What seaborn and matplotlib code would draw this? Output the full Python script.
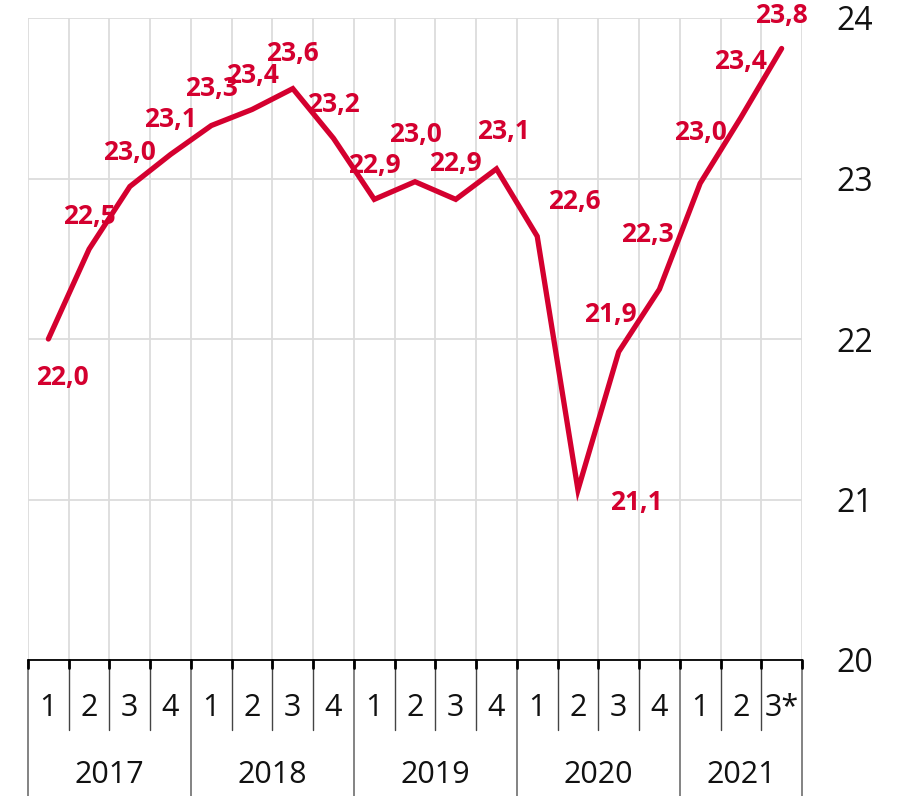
import matplotlib
matplotlib.use("Agg")
import matplotlib.pyplot as plt
import matplotlib.transforms as mtransforms
import pandas as pd
import seaborn as sns

# Quarterly series, 2017 Q1 .. 2021 Q3
years = ["2017", "2018", "2019", "2020", "2021"]
quarters = ["1", "2", "3", "4"] * 4 + ["1", "2", "3*"]
values = [22.00, 22.56, 22.95, 23.15, 23.33, 23.43, 23.56, 23.25, 22.87, 22.98,
          22.87, 23.06, 22.64, 21.06, 21.92, 22.31, 22.97, 23.38, 23.81]
value_labels = ["22,0", "22,5", "23,0", "23,1", "23,3", "23,4", "23,6", "23,2", "22,9", "23,0",
                "22,9", "23,1", "22,6", "21,1", "21,9", "22,3", "23,0", "23,4", "23,8"]
y_ticks = [20, 21, 22, 23, 24]

# label offsets in pixels (dx, dy)
label_offsets = [(14, -39), (0, 33), (0, 34), (0, 35), (0, 37), (0, 34), (0, 35), (0, 34),
                 (0, 34), (0, 47), (0, 36), (7, 37), (37, 35), (58, -13), (-8, 37),
                 (-12, 55), (0, 51), (0, 56), (0, 33)]

RED = "#d4002f"
GRID = "#dcdcdc"

df = pd.DataFrame({"idx": range(len(values)), "value": values})

sns.set_style("white")
plt.rcParams["font.family"] = ["Open Sans", "DejaVu Sans"]

fig = plt.figure(figsize=(9.17, 7.96), dpi=100)
W, H = 917, 796
left, right, top, bottom = 28, 802, 18, 660
ax = fig.add_axes([left / W, 1 - bottom / H, (right - left) / W, (bottom - top) / H])

sns.lineplot(data=df, x="idx", y="value", ax=ax, color=RED, linewidth=3.8,
             solid_joinstyle="miter", zorder=3)

ax.set_xlim(-0.5, len(values) - 0.5)
ax.set_ylim(20, 24)
ax.set_xticks([])
ax.set_xticks([i - 0.5 for i in range(len(values) + 1)], minor=True)
ax.set_yticks(y_ticks)
ax.yaxis.tick_right()
ax.tick_params(axis="y", length=0, pad=25, labelsize=23, labelcolor="#111111")
ax.tick_params(axis="x", which="both", length=0)
ax.grid(which="minor", axis="x", color=GRID, linewidth=1.3)
ax.grid(which="major", axis="y", color=GRID, linewidth=1.3)
for s in ax.spines.values():
    s.set_visible(False)
ax.set_xlabel("")
ax.set_ylabel("")

for i, (v, lab) in enumerate(zip(values, value_labels)):
    dx, dy = label_offsets[i]
    ax.annotate(lab, (i, v), xytext=(dx, dy), textcoords="offset pixels",
                ha="center", va="center", color=RED, fontsize=19,
                fontweight="bold", zorder=4)

# category table under the axis
trans = mtransforms.blended_transform_factory(ax.transData, ax.transAxes)
ah = bottom - top
q_bot = -(730 - bottom) / ah
y_bot = -(H - bottom) / ah
ax.plot([-0.5, len(values) - 0.5], [0, 0], transform=trans, color="black",
        linewidth=1.3, clip_on=False, zorder=5)
for i in range(len(values) + 1):
    x = i - 0.5
    if i % 4 == 0 or i == len(values):
        ax.plot([x, x], [0, y_bot], transform=trans, color="#7a7a7a",
                linewidth=1.3, clip_on=False)
    else:
        ax.plot([x, x], [0, q_bot], transform=trans, color="#444444",
                linewidth=1.0, clip_on=False)
    ax.plot([x, x], [0, -8 / ah], transform=trans, color="black",
            linewidth=2, clip_on=False)

for i, q in enumerate(quarters):
    ax.text(i, -(708 - bottom) / ah, q, transform=trans, ha="center", va="center",
            fontsize=22, color="#111111")
for k, yr in enumerate(years):
    start = k * 4
    end = min(start + 4, len(values))
    ax.text((start + end - 1) / 2, -(775 - bottom) / ah, yr, transform=trans,
            ha="center", va="center", fontsize=22, color="#111111")

fig.savefig("out.png", dpi=100)
